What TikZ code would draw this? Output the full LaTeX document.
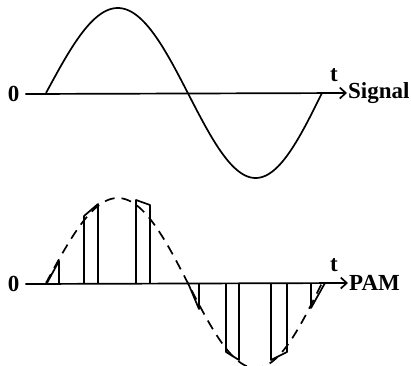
\documentclass[tikz,border=0pt]{standalone}
\usepackage{fontspec}
\setmainfont{Liberation Serif}
\usetikzlibrary{arrows.meta}

\pgfmathdeclarefunction{sigwave}{1}{\pgfmathparse{85*sin(((#1-46)/276)*360 - 5*sin(((#1-46)/276)*180))}}

\begin{document}
\begin{tikzpicture}[x=1pt, y=-1pt,
    lbl/.style={font=\fontsize{23}{27}\selectfont\bfseries, inner sep=1pt},
    axis/.style={-{Straight Barb[length=6pt, width=11pt]}, line width=1.7pt},
    curve/.style={line width=1.7pt, line join=round},
    guide/.style={line width=1.7pt, dash pattern=on 10pt off 7pt}
]
    \useasboundingbox (0,0) rectangle (411,365);

    % signal
    \node[lbl] (zeroS) at (13.5,94) {0};
    \node[lbl, anchor=west] (sig) at (347,93) {Signal};
    \node[lbl] (tS) at (334,75) {t};
    \draw[axis] ([xshift=5pt]zeroS.east) -- (sig.west);
    \draw[curve] plot[domain=46:322, samples=140, smooth] (\x, {93 - sigwave(\x)});

    % PAM
    \node[lbl] (zeroP) at (13.5,284) {0};
    \node[lbl, anchor=west] (pam) at (348,283) {PAM};
    \node[lbl] (tP) at (334,265) {t};
    \draw[axis] ([xshift=5pt]zeroP.east) -- (pam.west);
    \draw[guide] plot[domain=46:322, samples=140, smooth] (\x, {283 - sigwave(\x)});

    \draw[curve] (47,283) -- (59,261) -- (59,283);
    \draw[curve] (84,283) -- (84,216) -- (98,204) -- (98,283);
    \draw[curve] (136,283) -- (136,200) -- (150,205) -- (150,283);
    \draw[curve] (188,283) -- (199,309) -- (199,283);
    \draw[curve] (226,283) -- (226,352) -- (239,360) -- (239,283);
    \draw[curve] (271,283) -- (271,360) -- (287,352) -- (287,283);
    \draw[curve] (311,283) -- (311,308) -- (325,283);

\end{tikzpicture}
\end{document}
